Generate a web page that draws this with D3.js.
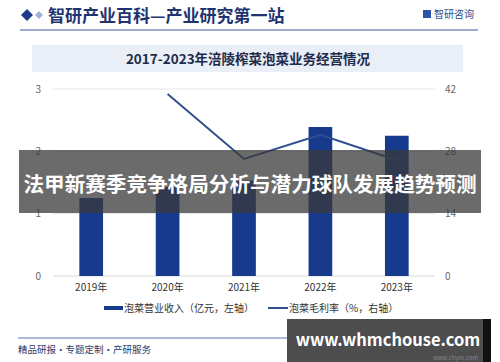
<!DOCTYPE html>
<html>
<head>
<meta charset="utf-8">
<script src="https://cdn.jsdelivr.net/npm/d3@7"></script>
<style>
  body { margin: 0; background: #fff; }
  svg { display: block; font-family: "Noto Sans CJK SC", "Noto Sans", sans-serif; }
</style>
</head>
<body>
<svg width="500" height="362"></svg>
<script>
const years = ["2019年", "2020年", "2021年", "2022年", "2023年"];
const revenue = [1.25, 1.43, 1.53, 2.39, 2.25];          // 亿元, left axis
const margin = [null, 40.9, 26.3, 31.7, 26.0];          // %, right axis
const leftTicks = [0, 1, 2, 3];
const rightTicks = [0, 14, 28, 42];

const svg = d3.select("svg");
const plot = { left: 53, right: 435, top: 89, bottom: 276 };

// header
svg.append("path")
  .attr("d", "M21,15 L27,9 L33,15 L27,21 Z")
  .attr("fill", "#1d3a8a");
svg.append("path")
  .attr("d", "M35,15 L39,11 L43,15 L39,19 Z")
  .attr("fill", "#9fb2d8");
svg.append("text")
  .attr("x", 48).attr("y", 22)
  .attr("font-size", 17).attr("font-weight", "bold")
  .attr("fill", "#1d3470")
  .text("智研产业百科—产业研究第一站");
svg.append("rect").attr("x", 423).attr("y", 10).attr("width", 8).attr("height", 8).attr("fill", "#2c55a8");
svg.append("text")
  .attr("x", 434).attr("y", 18)
  .attr("font-size", 10).attr("fill", "#2c4a8a")
  .text("智研咨询");
svg.append("line")
  .attr("x1", 20).attr("x2", 478).attr("y1", 30).attr("y2", 30)
  .attr("stroke", "#3c5a9a").attr("stroke-width", 1);

// chart title box
svg.append("rect")
  .attr("x", 32).attr("y", 45).attr("width", 431).attr("height", 27)
  .attr("fill", "#e9eef7");
svg.append("text")
  .attr("x", 248).attr("y", 64)
  .attr("text-anchor", "middle")
  .attr("font-size", 13.5).attr("font-weight", "bold")
  .attr("fill", "#1e2b4a")
  .text("2017-2023年涪陵榨菜泡菜业务经营情况");

// scales
const x = d3.scaleBand().domain(years).range([plot.left, plot.right]).paddingInner(0.69).paddingOuter(0.345);
const yL = d3.scaleLinear().domain([0, 3]).range([plot.bottom, plot.top]);
const yR = d3.scaleLinear().domain([0, 42]).range([plot.bottom, plot.top]);

// gridlines
svg.append("g").selectAll("line")
  .data(leftTicks)
  .join("line")
  .attr("x1", plot.left).attr("x2", plot.right)
  .attr("y1", d => yL(d)).attr("y2", d => yL(d))
  .attr("stroke", d => d === 0 ? "#d9d9d9" : "#e6e6e6");

// left axis labels
svg.append("g").selectAll("text")
  .data(leftTicks)
  .join("text")
  .attr("x", 41).attr("y", d => yL(d) + 3.5)
  .attr("text-anchor", "end")
  .attr("font-size", 10).attr("fill", "#666")
  .text(d => d);

// right axis labels
svg.append("g").selectAll("text")
  .data(rightTicks)
  .join("text")
  .attr("x", 445).attr("y", d => yR(d) + 3.5)
  .attr("font-size", 10).attr("fill", "#666")
  .text(d => d);

// bars
svg.append("g").selectAll("rect")
  .data(revenue)
  .join("rect")
  .attr("x", (d, i) => x(years[i]))
  .attr("y", d => yL(d))
  .attr("width", x.bandwidth())
  .attr("height", d => yL(0) - yL(d))
  .attr("fill", "#173a8c");

// line
const lineData = margin.map((v, i) => ({ year: years[i], v })).filter(d => d.v != null);
svg.append("path")
  .datum(lineData)
  .attr("fill", "none")
  .attr("stroke", "#2f4f8e")
  .attr("stroke-width", 2)
  .attr("d", d3.line().x(d => x(d.year) + x.bandwidth() / 2).y(d => yR(d.v)));

// x labels
svg.append("g").selectAll("text")
  .data(years)
  .join("text")
  .attr("x", d => x(d) + x.bandwidth() / 2)
  .attr("y", 291)
  .attr("text-anchor", "middle")
  .attr("font-size", 10).attr("fill", "#333")
  .text(d => d);

// legend
svg.append("rect").attr("x", 104).attr("y", 306).attr("width", 19).attr("height", 4).attr("fill", "#173a8c");
svg.append("text").attr("x", 124).attr("y", 312).attr("font-size", 10).attr("fill", "#333")
  .text("泡菜营业收入（亿元，左轴）");
svg.append("line").attr("x1", 268).attr("x2", 288).attr("y1", 308).attr("y2", 308)
  .attr("stroke", "#2f4f8e").attr("stroke-width", 2);
svg.append("text").attr("x", 289).attr("y", 312).attr("font-size", 10).attr("fill", "#333")
  .text("泡菜毛利率（%，右轴）");

// footer
svg.append("line")
  .attr("x1", 18).attr("x2", 480).attr("y1", 338).attr("y2", 338)
  .attr("stroke", "#5a72ad").attr("stroke-width", 1);
svg.append("text").attr("x", 18).attr("y", 353).attr("font-size", 9.5).attr("fill", "#2a3a6a")
  .text("精品研报·专题定制·产研服务");

// overlay banner
svg.append("rect")
  .attr("x", 19).attr("y", 150).attr("width", 462).attr("height", 63)
  .attr("fill", "#3a3a3a").attr("fill-opacity", 0.75);
svg.append("text")
  .attr("x", 250).attr("y", 192)
  .attr("text-anchor", "middle")
  .attr("font-size", 20.6).attr("font-weight", "bold")
  .attr("fill", "#fff")
  .text("法甲新赛季竞争格局分析与潜力球队发展趋势预测");

// bottom-right watermark box
svg.append("rect")
  .attr("x", 287).attr("y", 319).attr("width", 197).attr("height", 43)
  .attr("fill", "#4d4d4d");
svg.append("rect")
  .attr("x", 483).attr("y", 319).attr("width", 8).attr("height", 43)
  .attr("fill", "#111");
svg.append("text")
  .attr("x", 388).attr("y", 346)
  .attr("text-anchor", "middle")
  .attr("font-size", 16.5).attr("font-weight", "bold")
  .attr("fill", "#fff")
  .text("www.whmchouse.com");
// small site text peeking out under the box
svg.append("text").attr("x", 478).attr("y", 360).attr("text-anchor", "end")
  .attr("font-size", 6).attr("fill", "#888").text("www.chyxx.com");
</script>
</body>
</html>
